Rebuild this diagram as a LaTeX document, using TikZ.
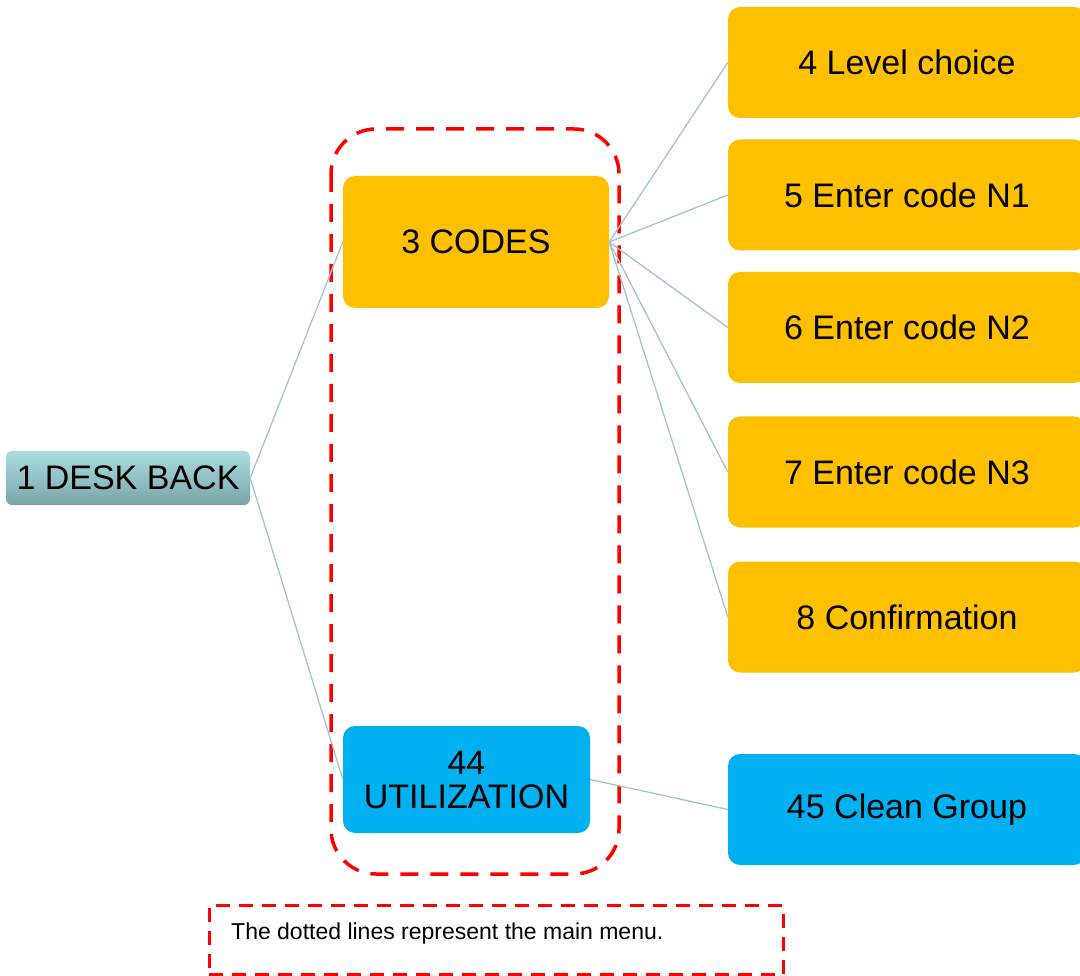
\documentclass[tikz,border=0pt]{standalone}
\usepackage{fontspec}
\setmainfont{Liberation Sans}
\begin{document}
\begin{tikzpicture}[x=1pt,y=-1pt,
  box/.style={rounded corners=12pt, inner sep=0pt, align=center, font=\fontsize{34}{36}\selectfont, text=black},
  orange/.style={box, fill=codeorange},
  blue/.style={box, fill=utilblue},
  conn/.style={draw=linecol, line width=1.3pt},
  menu/.style={draw=red, line width=3.5pt, dash pattern=on 18pt off 12pt},
  ]
\definecolor{codeorange}{HTML}{FFC000}
\definecolor{utilblue}{HTML}{00B0F0}
\definecolor{linecol}{HTML}{A3C6CA}
\definecolor{deskdark}{HTML}{7AA5A9}
\definecolor{desklight}{HTML}{ABDDE1}
\useasboundingbox (0,0) rectangle (1080,976);
\clip (0,0) rectangle (1080,976);
% main menu frame
\draw[menu, rounded corners=45pt] (331,129) rectangle (619,874);
% nodes
\node[box, rounded corners=6pt, minimum width=244pt, minimum height=54pt, top color=desklight, bottom color=deskdark, draw=none] (desk) at (128,478) {1 DESK BACK};
\node[orange, minimum width=266pt, minimum height=132pt] (codes) at (476,242) {3 CODES};
\node[blue, minimum width=247pt, minimum height=107pt] (util) at (466.5,779.5) {44\\[-2pt]UTILIZATION};
\node[orange, minimum width=358pt, minimum height=111pt] (n4) at (907,62.5) {4 Level choice};
\node[orange, minimum width=358pt, minimum height=111pt] (n5) at (907,195) {5 Enter code N1};
\node[orange, minimum width=358pt, minimum height=111pt] (n6) at (907,327.5) {6 Enter code N2};
\node[orange, minimum width=358pt, minimum height=111pt] (n7) at (907,472) {7 Enter code N3};
\node[orange, minimum width=358pt, minimum height=111pt] (n8) at (907,617) {8 Confirmation};
\node[blue, minimum width=358pt, minimum height=111pt] (n45) at (907,809.5) {45 Clean Group};
% connectors
\draw[conn] (desk.east) -- (codes.west);
\draw[conn] (desk.east) -- (util.west);
\foreach \n in {n4,n5,n6,n7,n8}{\draw[conn] (codes.east) -- (\n.west);}
\draw[conn] (util.east) -- (n45.west);
% note
\node[draw=red, line width=3pt, dash pattern=on 14pt off 9pt, minimum width=574pt, minimum height=69pt, inner sep=0pt] (note) at (496,940) {};
\node[anchor=base west, inner sep=0pt, font=\fontsize{23}{26}\selectfont] (notetext) at (231,939) {The dotted lines represent the main menu.};
\end{tikzpicture}
\end{document}
